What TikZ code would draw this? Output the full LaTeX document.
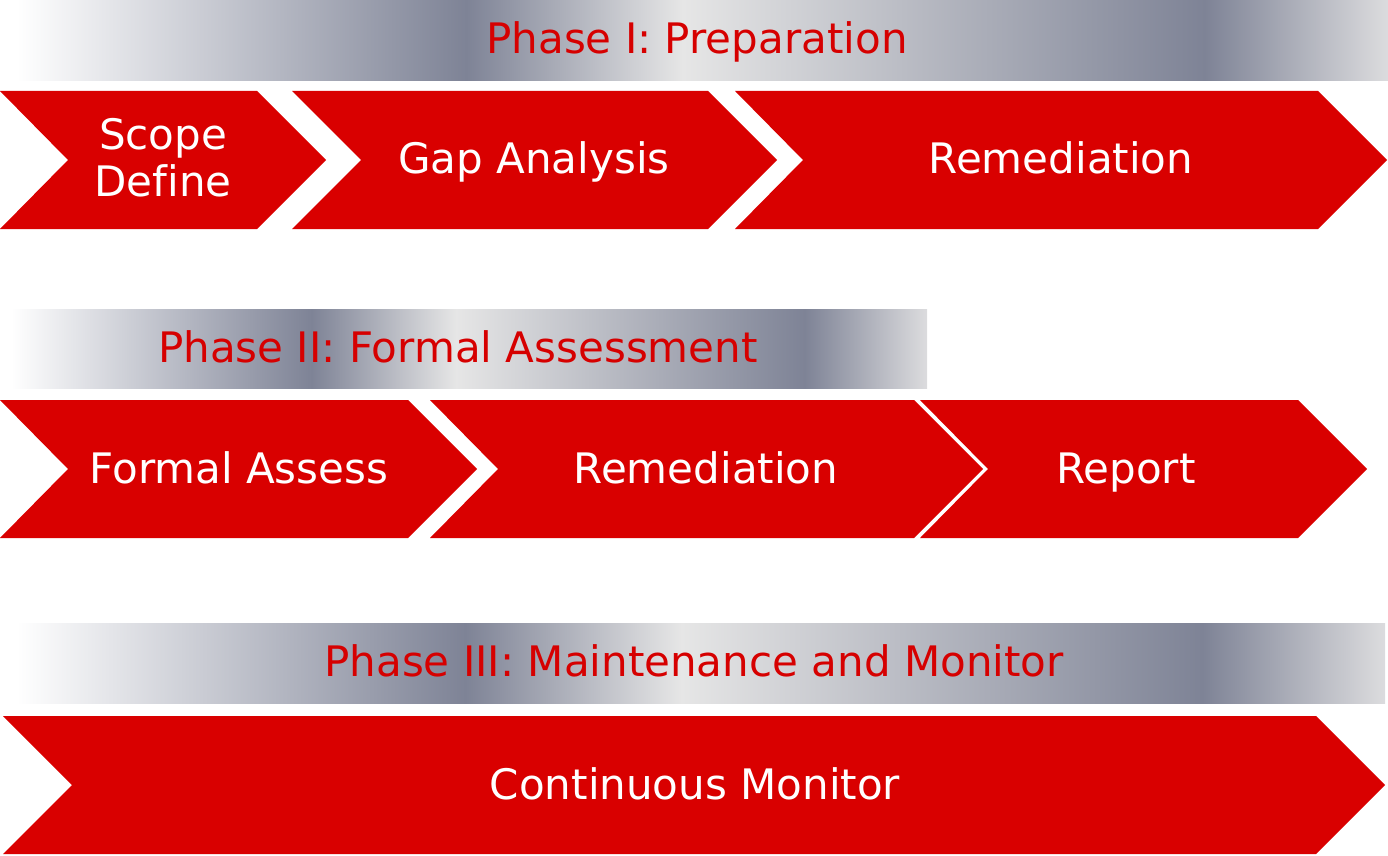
\documentclass[tikz,border=0pt]{standalone}
\usepackage{fontspec}
\setmainfont{DejaVu Sans}[Ligatures=NoCommon]
\usepackage{tikz}
\definecolor{chevred}{HTML}{D90000}
\definecolor{titlered}{HTML}{D60000}
\definecolor{bardark}{HTML}{7E8396}
\definecolor{barlight}{HTML}{E6E6E6}
\definecolor{barend}{HTML}{DCDCDE}
\pgfdeclarehorizontalshading{phasegrad}{100bp}{color(0bp)=(white); color(25.6bp)=(white); color(41.8bp)=(bardark); color(49.6bp)=(barlight); color(68.4bp)=(bardark); color(75bp)=(barend); color(100bp)=(barend)}
\newcommand{\bigfont}{\fontsize{21}{23.5}\selectfont}
\tikzset{
	chevron/.style={
		fill=chevred,
		draw=none
	},
	phasebar/.style={
		shade,
		shading=phasegrad,
		draw=none
	},
	phase label/.style={
		text=titlered,
		font=\bigfont,
		anchor=base,
		inner sep=0pt
	},
	step label/.style={
		text=white,
		font=\bigfont,
		anchor=base,
		inner sep=0pt
	}
}

\begin{document}
\begin{tikzpicture}[x=0.5pt, y=-0.5pt]
	\useasboundingbox (0,0) rectangle (1388,856);

	% Phase I
	\path[phasebar] (0,1) rectangle (1388,81);
	\node[phase label] (ph1) at (697,54) {Phase I: Preparation};
	\fill[chevron] (0,91) -- (257,91) -- (326,160) -- (257,229) -- (0,229) -- (68,160) -- cycle;
	\fill[chevron] (292,91) -- (708,91) -- (777,160) -- (708,229) -- (292,229) -- (361,160) -- cycle;
	\fill[chevron] (735,91) -- (1318,91) -- (1387,160) -- (1318,229) -- (735,229) -- (803,160) -- cycle;
	\node[step label, anchor=center, align=center] (scope) at (163,158) {Scope\\Define};
	\node[step label] (gap) at (534,174) {Gap Analysis};
	\node[step label] (remed1) at (1061,174) {Remediation};

	% Phase II
	\path[phasebar] (0,309) rectangle (927,388);
	\node[phase label] (ph2) at (458,362) {Phase II: Formal Assessment};
	\fill[chevron] (0,400) -- (408,400) -- (477,469) -- (408,538) -- (0,538) -- (68,469) -- cycle;
	\fill[chevron] (430,400) -- (914,400) -- (983,469) -- (914,538) -- (430,538) -- (498,469) -- cycle;
	\fill[chevron] (920,400) -- (1298,400) -- (1367,469) -- (1298,538) -- (920,538) -- (988,469) -- cycle;
	\node[step label] (assess) at (239,483) {Formal Assess};
	\node[step label] (remed2) at (706,483) {Remediation};
	\node[step label] (report) at (1126,483) {Report};

	% Phase III
	\path[phasebar] (0,623) rectangle (1385,703);
	\node[phase label] (ph3) at (694,676) {Phase III: Maintenance and Monitor};
	\fill[chevron] (3,716) -- (1316,716) -- (1385,785) -- (1316,854) -- (3,854) -- (72,785) -- cycle;
	\node[step label] (monitor) at (695,799) {Continuous Monitor};
\end{tikzpicture}
\end{document}
